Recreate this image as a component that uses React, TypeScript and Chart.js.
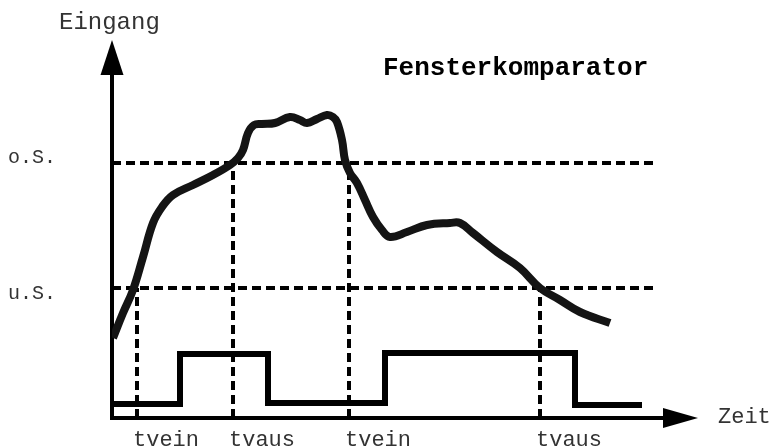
import React, { useEffect, useRef } from "react";
import { Chart, registerables } from "chart.js";

Chart.register(...registerables);

// Input signal (time, value)
const curveT = [1, 11, 21, 31, 41, 50, 61, 81, 101, 118, 126, 131, 136, 142, 150, 163, 178, 188, 195, 205, 215, 221, 225, 230, 233, 238, 245, 253, 261, 270, 278, 295, 315, 338, 348, 361, 385, 408, 428, 448, 468, 498];
const curveV = [80, 105, 128, 161, 195, 211, 223, 233, 243, 253, 260, 268, 285, 293, 294, 295, 301, 298, 295, 299, 303, 301, 296, 278, 258, 245, 235, 218, 201, 188, 181, 186, 193, 195, 195, 185, 166, 150, 130, 118, 106, 95];

// Output (comparator) signal, stepped
const stepT = [0, 68, 156, 273, 463, 530];
const stepV = [14, 64, 15, 65, 13, 13];

// Thresholds
const thresholdNames = ["o.S.", "u.S."];
const thresholdValues = [255, 130];
const thresholdEnd = 544;

// Switching times
const switchTimes = [25, 121, 237, 428];
const switchLevels = [130, 255, 255, 130];
const switchLabels = ["tvein", "tvaus", "tvein", "tvaus"];

const yAxisTitle = "Eingang";
const xAxisTitle = "Zeit";
const chartTitle = "Fensterkomparator";

const X_MAX = 586;
const Y_MAX = 378;

const MONO = "'Liberation Mono', 'Courier New', monospace";

const decorPlugin = {
  id: "decor",
  beforeDatasetsDraw(chart: any) {
    const { ctx, scales } = chart;
    const xs = scales.x;
    const ys = scales.y;
    const x0 = xs.getPixelForValue(0);
    const y0 = ys.getPixelForValue(0);
    const xTip = xs.getPixelForValue(X_MAX);
    const yTip = ys.getPixelForValue(Y_MAX);
    ctx.save();
    ctx.fillStyle = "#000";
    ctx.strokeStyle = "#000";
    ctx.lineWidth = 4;
    // y axis
    ctx.beginPath();
    ctx.moveTo(x0, y0 + 2);
    ctx.lineTo(x0, yTip + 30);
    ctx.stroke();
    ctx.beginPath();
    ctx.moveTo(x0, yTip);
    ctx.lineTo(x0 - 11.5, yTip + 35);
    ctx.lineTo(x0 + 11.5, yTip + 35);
    ctx.closePath();
    ctx.fill();
    // x axis
    ctx.beginPath();
    ctx.moveTo(x0 - 2, y0);
    ctx.lineTo(xTip - 30, y0);
    ctx.stroke();
    ctx.beginPath();
    ctx.moveTo(xTip, y0);
    ctx.lineTo(xTip - 35, y0 - 10);
    ctx.lineTo(xTip - 35, y0 + 10);
    ctx.closePath();
    ctx.fill();
    ctx.restore();
  },
  afterDraw(chart: any) {
    const { ctx, scales } = chart;
    const xs = scales.x;
    const ys = scales.y;
    ctx.save();
    ctx.fillStyle = "#333";
    ctx.textAlign = "left";
    ctx.textBaseline = "alphabetic";
    ctx.font = `24px ${MONO}`;
    ctx.fillText(yAxisTitle, 59, 29);
    ctx.font = `22px ${MONO}`;
    ctx.fillText(xAxisTitle, xs.getPixelForValue(X_MAX) + 20, ys.getPixelForValue(0) + 5);
    ctx.font = `20px ${MONO}`;
    const offs = [0, 11];
    thresholdNames.forEach((n, i) => {
      ctx.fillText(n, 8, ys.getPixelForValue(thresholdValues[i]) + offs[i]);
    });
    ctx.font = `22px ${MONO}`;
    switchLabels.forEach((l, i) => {
      ctx.fillText(l, xs.getPixelForValue(switchTimes[i]) - 4, 446);
    });
    ctx.fillStyle = "#000";
    ctx.font = `bold 26px ${MONO}`;
    ctx.fillText(chartTitle, 383, 75);
    ctx.restore();
  },
};

export default function App() {
  const ref = useRef<HTMLCanvasElement>(null);
  useEffect(() => {
    if (!ref.current) return;
    const dashed = {
      borderColor: "#000",
      borderWidth: 4,
      borderDash: [9, 5],
      pointRadius: 0,
      tension: 0,
      order: 3,
    };
    const datasets: any[] = [
      {
        label: "Eingang",
        data: curveT.map((t, i) => ({ x: t, y: curveV[i] })),
        borderColor: "#141414",
        borderWidth: 8,
        pointRadius: 0,
        tension: 0.4,
        order: 0,
      },
      {
        label: "Ausgang",
        data: stepT.map((t, i) => ({ x: t, y: stepV[i] })),
        borderColor: "#000",
        borderWidth: 6,
        pointRadius: 0,
        stepped: "before",
        order: 1,
      },
      ...thresholdValues.map((v, i) => ({
        ...dashed,
        label: thresholdNames[i],
        data: [
          { x: 0, y: v },
          { x: thresholdEnd, y: v },
        ],
      })),
      ...switchTimes.map((t, i) => ({
        ...dashed,
        label: switchLabels[i],
        data: [
          { x: t, y: 0 },
          { x: t, y: switchLevels[i] },
        ],
      })),
    ];
    const chart = new Chart(ref.current, {
      type: "line",
      data: { datasets },
      options: {
        animation: false,
        responsive: false,
        layout: { padding: { left: 112, right: 78, top: 40, bottom: 30 } },
        plugins: { legend: { display: false }, tooltip: { enabled: false }, title: { display: false } },
        scales: {
          x: { type: "linear", min: 0, max: X_MAX, display: false },
          y: { type: "linear", min: 0, max: Y_MAX, display: false },
        },
      },
      plugins: [decorPlugin],
    });
    return () => chart.destroy();
  }, []);
  return (
    <div style={{ position: "absolute", left: 0, top: 0, width: 776, height: 448, background: "#fff" }}>
      <canvas ref={ref} width={776} height={448} style={{ display: "block" }} />
    </div>
  );
}
